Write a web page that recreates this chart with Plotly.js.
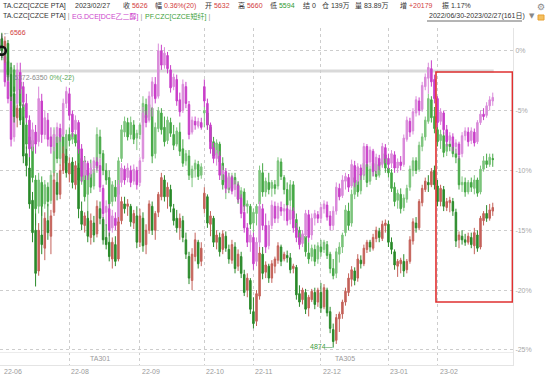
<!DOCTYPE html>
<html><head><meta charset="utf-8">
<script src="https://cdn.plot.ly/plotly-3.0.1.min.js"></script>
<style>html,body{margin:0;padding:0;background:#fff;}#chart{width:550px;height:377px;}</style>
</head><body><div id="chart"></div>
<script>
const dates = ["2022-06-30",
"2022-07-01","2022-07-04","2022-07-05","2022-07-06","2022-07-07","2022-07-08","2022-07-11","2022-07-12","2022-07-13","2022-07-14","2022-07-15",
"2022-07-18","2022-07-19","2022-07-20","2022-07-21","2022-07-22","2022-07-25","2022-07-26","2022-07-27","2022-07-28","2022-07-29",
"2022-08-01","2022-08-02","2022-08-03","2022-08-04","2022-08-05","2022-08-08","2022-08-09","2022-08-10","2022-08-11","2022-08-12",
"2022-08-15","2022-08-16","2022-08-17","2022-08-18","2022-08-19","2022-08-22","2022-08-23","2022-08-24","2022-08-25","2022-08-26",
"2022-08-29","2022-08-30","2022-08-31",
"2022-09-01","2022-09-02","2022-09-05","2022-09-06","2022-09-07","2022-09-08","2022-09-09","2022-09-13","2022-09-14","2022-09-15","2022-09-16",
"2022-09-19","2022-09-20","2022-09-21","2022-09-22","2022-09-23","2022-09-26","2022-09-27","2022-09-28","2022-09-29","2022-09-30",
"2022-10-10","2022-10-11","2022-10-12","2022-10-13","2022-10-14","2022-10-17","2022-10-18","2022-10-19","2022-10-20","2022-10-21",
"2022-10-24","2022-10-25","2022-10-26","2022-10-27","2022-10-28","2022-10-31",
"2022-11-01","2022-11-02","2022-11-03","2022-11-04","2022-11-07","2022-11-08","2022-11-09","2022-11-10","2022-11-11",
"2022-11-14","2022-11-15","2022-11-16","2022-11-17","2022-11-18","2022-11-21","2022-11-22","2022-11-23","2022-11-24","2022-11-25",
"2022-11-28","2022-11-29","2022-11-30",
"2022-12-01","2022-12-02","2022-12-05","2022-12-06","2022-12-07","2022-12-08","2022-12-09","2022-12-12","2022-12-13","2022-12-14","2022-12-15","2022-12-16",
"2022-12-19","2022-12-20","2022-12-21","2022-12-22","2022-12-23","2022-12-26","2022-12-27","2022-12-28","2022-12-29","2022-12-30",
"2023-01-03","2023-01-04","2023-01-05","2023-01-06","2023-01-09","2023-01-10","2023-01-11","2023-01-12","2023-01-13",
"2023-01-16","2023-01-17","2023-01-18","2023-01-19","2023-01-20","2023-01-30","2023-01-31",
"2023-02-01","2023-02-02","2023-02-03","2023-02-06","2023-02-07","2023-02-08","2023-02-09","2023-02-10",
"2023-02-13","2023-02-14","2023-02-15","2023-02-16","2023-02-17","2023-02-20","2023-02-21","2023-02-22","2023-02-23","2023-02-24","2023-02-27"];

// TA.CZC (PTA) — % change vs first close
const taOpen = [1.0,0.2,0.6,-2.0,-3.6,-5.6,-4.8,-6.0,-8.6,-9.8,
-12.5,-15.0,-18.4,-15.4,-16.5,-14.2,-15.5,-13.5,-11.0,-12.0,
-10.0,-8.8,-10.3,-9.3,-11.2,-9.8,-13.4,-14.6,-14.0,-15.6,
-14.4,-15.3,-13.2,-14.1,-15.6,-16.0,-17.4,-16.2,-17.4,-14.2,
-12.8,-13.0,-13.0,-14.4,-13.8,-16.0,-14.0,-16.2,-15.0,-13.0,
-15.0,-13.5,-12.2,-10.8,-12.2,-11.6,-13.2,-14.0,-14.8,-14.2,
-15.8,-17.2,-19.2,-17.2,-16.0,-17.6,-13.2,-12.2,-14.5,-14.0,
-16.0,-15.6,-16.6,-15.5,-16.6,-17.5,-16.4,-18.0,-17.2,-18.7,
-20.0,-19.2,-21.8,-22.6,-20.5,-17.0,-18.5,-18.0,-19.0,-18.0,
-17.5,-16.4,-17.4,-17.1,-17.3,-18.2,-18.1,-20.3,-20.8,-20.2,
-21.5,-20.8,-20.2,-21.0,-20.2,-21.4,-20.0,-21.8,-23.3,-24.2,
-22.4,-22.0,-21.0,-20.2,-19.1,-18.4,-19.0,-17.5,-17.8,-16.6,
-16.0,-16.5,-15.7,-15.1,-15.7,-14.6,-14.5,-16.0,-16.8,-18.0,
-17.8,-17.6,-18.3,-17.6,-15.9,-14.4,-14.8,-12.7,-11.6,-11.0,
-11.2,-10.0,-11.3,-12.6,-11.6,-13.1,-12.7,-12.6,-13.5,-15.8,
-15.5,-15.8,-16.0,-15.6,-16.3,-15.4,-16.4,-14.2,-13.6,-14.0,
-13.4];
const taHigh = [1.5,1.2,0.9,-1.0,-3.0,-4.5,-4.3,-5.5,-8.0,-8.9,
-11.8,-13.6,-14.4,-13.0,-13.5,-12.8,-13.3,-10.2,-10.2,-9.5,
-8.0,-8.2,-8.9,-8.9,-9.2,-9.4,-12.6,-13.5,-13.4,-13.6,
-13.8,-12.5,-12.6,-13.9,-14.5,-15.2,-15.6,-15.5,-13.9,-12.2,
-12.2,-12.4,-12.8,-13.3,-13.0,-13.2,-13.5,-14.5,-12.5,-12.6,
-13.4,-11.8,-10.2,-10.4,-11.0,-11.2,-12.8,-13.3,-13.6,-13.8,
-15.2,-16.8,-16.5,-15.2,-15.8,-16.0,-11.4,-12.0,-13.4,-13.8,
-15.0,-15.2,-15.0,-15.1,-16.2,-15.8,-16.0,-16.6,-16.8,-18.3,
-18.6,-19.0,-20.6,-20.0,-16.4,-16.4,-17.6,-17.8,-17.5,-17.2,
-16.0,-16.2,-16.8,-16.7,-16.9,-17.8,-17.9,-19.6,-19.8,-19.9,
-20.4,-19.9,-19.8,-19.8,-19.4,-19.5,-19.8,-21.4,-22.8,-22.0,
-21.8,-20.8,-19.8,-18.6,-18.0,-18.1,-17.0,-17.1,-16.2,-15.8,
-15.8,-15.3,-14.7,-14.8,-14.2,-14.1,-14.2,-15.6,-16.6,-17.4,
-17.3,-17.0,-17.4,-15.5,-14.0,-13.9,-12.4,-11.2,-10.6,-10.4,
-9.8,-9.6,-10.8,-11.2,-11.3,-12.3,-12.2,-12.3,-13.2,-15.1,
-15.0,-15.3,-15.2,-15.2,-14.8,-15.0,-13.8,-13.4,-12.9,-12.8,
-12.7];
const taLow = [-0.8,-1.0,-2.5,-4.2,-6.0,-6.4,-6.2,-9.4,-10.5,-13.2,
-16.0,-19.7,-18.8,-17.0,-17.5,-15.8,-17.0,-13.8,-12.5,-12.4,
-10.3,-10.6,-11.0,-11.5,-11.6,-14.0,-15.0,-15.2,-16.0,-16.2,
-16.0,-15.6,-14.5,-16.2,-16.6,-17.6,-18.2,-18.0,-17.6,-14.5,
-13.6,-13.8,-14.7,-14.9,-16.5,-16.4,-16.8,-17.0,-15.3,-15.4,
-15.8,-13.9,-12.5,-12.6,-13.2,-13.5,-14.6,-15.2,-15.8,-16.0,
-17.4,-19.5,-20.0,-17.6,-18.2,-18.0,-13.6,-14.8,-15.5,-16.4,
-16.6,-17.2,-17.0,-16.8,-17.8,-17.8,-18.6,-18.4,-19.0,-20.5,
-20.6,-22.0,-23.2,-23.0,-20.8,-19.1,-19.0,-19.4,-19.4,-18.6,
-17.8,-18.0,-17.6,-17.7,-18.6,-18.6,-20.8,-21.4,-21.2,-22.0,
-22.2,-21.0,-21.6,-21.4,-21.9,-21.6,-22.2,-23.6,-24.8,-24.5,
-23.5,-22.4,-21.3,-20.5,-19.7,-19.6,-19.3,-18.2,-18.0,-16.9,
-16.8,-16.7,-16.0,-16.0,-15.9,-15.2,-16.4,-17.0,-18.3,-18.9,
-18.6,-18.9,-18.6,-17.8,-16.2,-15.2,-15.0,-13.0,-11.8,-11.8,
-11.4,-11.6,-13.0,-13.0,-13.4,-13.4,-13.5,-13.8,-16.4,-16.5,
-16.2,-16.3,-16.2,-16.5,-17.0,-16.8,-16.6,-14.6,-14.3,-14.2,
-13.8];
const taClose = [0.0,0.8,-2.0,-3.8,-5.5,-4.8,-5.8,-8.8,-9.6,-12.8,
-15.2,-18.6,-15.0,-16.2,-14.0,-15.2,-13.8,-10.8,-12.0,-10.0,
-8.6,-10.2,-9.4,-11.0,-9.6,-13.2,-14.5,-13.8,-15.5,-14.2,
-15.4,-13.0,-14.0,-15.8,-16.2,-17.2,-16.0,-17.6,-14.3,-12.6,
-13.2,-12.8,-14.3,-13.6,-16.0,-13.8,-16.3,-15.0,-12.8,-15.0,
-13.6,-12.0,-10.6,-12.2,-11.4,-13.0,-14.2,-14.8,-14.0,-15.6,
-17.0,-19.0,-17.0,-15.8,-17.8,-16.5,-11.9,-14.4,-13.8,-16.0,
-15.4,-16.8,-15.3,-16.5,-17.4,-16.2,-18.2,-17.0,-18.6,-20.2,
-19.0,-21.6,-22.8,-20.3,-16.9,-18.6,-17.9,-19.0,-17.8,-17.4,
-16.3,-17.6,-17.0,-17.3,-18.3,-18.0,-20.4,-21.0,-20.0,-21.6,
-20.6,-20.1,-21.2,-20.0,-21.5,-19.8,-21.9,-23.2,-24.3,-22.3,
-22.0,-21.0,-20.1,-19.0,-18.3,-19.2,-17.4,-17.8,-16.5,-16.0,
-16.4,-15.6,-15.0,-15.6,-14.5,-14.4,-16.0,-16.6,-17.9,-17.6,
-17.5,-18.4,-17.6,-15.8,-14.3,-14.8,-12.6,-11.5,-10.9,-11.2,
-10.1,-11.2,-12.6,-11.5,-13.0,-12.6,-12.5,-13.4,-15.9,-15.4,
-15.8,-16.0,-15.5,-16.2,-15.2,-16.5,-14.0,-13.6,-14.0,-13.3,
-13.1];

// EG.DCE (乙二醇)
const egOpen = [1.0,-0.5,-2.6,-3.8,-7.2,-4.4,-1.8,-3.0,-4.4,-5.8,
-8.0,-6.8,-7.6,-4.2,-7.0,-5.8,-7.2,-8.0,-7.1,-6.5,
-7.0,-4.4,-3.6,-5.3,-6.6,-6.0,-8.2,-10.4,-9.4,-10.3,
-9.8,-9.3,-9.6,-11.5,-13.5,-13.2,-14.8,-14.0,-14.4,-11.0,
-9.9,-10.6,-10.0,-10.9,-10.0,-11.0,-9.0,-5.4,-5.8,-3.8,
-2.8,-3.8,0.0,-1.2,-0.4,-1.6,-3.0,-2.4,-4.1,-5.0,
-3.0,-4.5,-6.8,-5.9,-6.3,-6.0,-3.0,-4.4,-6.2,-8.1,
-9.0,-8.8,-10.3,-10.1,-11.4,-10.6,-11.6,-11.3,-12.3,-13.5,
-14.8,-16.0,-15.6,-17.6,-16.0,-13.2,-14.6,-16.3,-14.6,-13.0,
-14.0,-13.1,-13.4,-13.2,-14.1,-13.4,-14.8,-15.6,-16.1,-15.4,
-13.7,-15.4,-14.0,-13.7,-14.0,-13.2,-12.9,-13.8,-14.6,-13.4,
-11.5,-12.1,-10.9,-10.6,-11.3,-9.6,-10.9,-9.8,-10.3,-8.0,
-9.3,-8.4,-10.0,-9.0,-9.5,-8.1,-9.0,-9.4,-8.7,-9.8,
-9.3,-9.5,-7.4,-5.9,-6.7,-5.2,-4.2,-4.9,-3.0,-2.3,
-1.5,-2.4,-4.0,-5.9,-5.2,-6.6,-7.5,-7.2,-8.0,-7.8,
-8.6,-7.1,-6.8,-7.5,-6.8,-7.6,-6.0,-5.3,-5.4,-4.6,
-4.2];
const egHigh = [1.4,0.2,-1.8,-3.0,-4.2,-1.0,-1.0,-2.6,-3.6,-5.4,
-6.0,-6.2,-3.0,-3.6,-5.0,-5.2,-6.4,-6.6,-6.0,-6.1,
-4.0,-3.0,-3.1,-5.0,-5.4,-5.8,-7.8,-8.9,-9.2,-9.4,
-8.9,-8.9,-9.0,-11.2,-12.5,-12.8,-13.3,-13.5,-10.8,-9.4,
-9.6,-9.4,-9.6,-9.5,-9.7,-8.9,-4.7,-5.0,-3.4,-2.2,
-2.2,0.6,0.5,0.3,-0.1,-1.2,-1.9,-2.0,-3.5,-2.4,
-2.6,-4.2,-5.5,-5.5,-5.6,-5.6,-2.4,-4.0,-6.0,-7.7,
-8.3,-8.4,-9.6,-9.8,-10.2,-10.4,-10.8,-11.0,-12.0,-12.9,
-14.4,-15.0,-15.2,-15.6,-12.6,-12.8,-13.6,-14.2,-12.5,-12.6,
-12.7,-12.6,-12.8,-12.9,-13.0,-13.1,-14.4,-15.2,-15.0,-13.3,
-13.3,-13.6,-13.3,-13.4,-12.8,-12.5,-12.6,-13.4,-13.0,-11.0,
-11.1,-10.4,-10.2,-10.3,-9.1,-9.2,-9.4,-9.5,-7.7,-7.8,
-8.0,-8.2,-8.6,-8.7,-7.7,-7.8,-8.6,-8.3,-8.4,-9.0,
-8.8,-7.0,-5.5,-5.6,-4.8,-3.8,-3.9,-2.6,-1.9,-1.0,
-0.8,-2.0,-3.8,-4.8,-5.0,-6.2,-6.8,-6.9,-7.4,-7.6,
-6.8,-6.4,-6.4,-6.4,-6.5,-5.8,-5.0,-4.8,-4.3,-3.8,
-3.5];
const egLow = [-0.6,-3.0,-4.4,-8.0,-7.6,-4.8,-3.6,-4.7,-6.0,-8.9,
-8.4,-8.6,-8.0,-7.7,-7.4,-8.0,-8.6,-8.4,-7.7,-7.6,
-7.2,-4.8,-5.8,-7.2,-7.0,-8.6,-11.0,-10.8,-10.8,-10.6,
-10.2,-10.0,-11.8,-14.1,-14.6,-15.5,-15.2,-15.0,-14.6,-11.4,
-11.2,-11.0,-11.4,-11.2,-11.6,-11.3,-9.3,-6.4,-6.0,-5.5,
-4.4,-4.0,-1.6,-1.5,-1.9,-3.5,-3.3,-4.6,-5.5,-5.2,
-4.8,-7.4,-7.0,-6.6,-6.5,-6.6,-4.7,-6.6,-8.6,-9.4,
-9.6,-10.8,-10.8,-11.9,-11.7,-12.0,-12.2,-12.7,-14.0,-15.2,
-16.4,-16.8,-18.3,-18.0,-16.4,-15.0,-16.9,-16.6,-14.9,-14.4,
-14.4,-13.8,-14.2,-14.6,-14.5,-15.2,-16.0,-16.6,-16.4,-15.6,
-16.0,-15.8,-14.6,-14.4,-14.4,-13.6,-14.2,-15.0,-15.0,-13.7,
-12.5,-12.3,-11.6,-11.8,-11.5,-11.4,-11.2,-10.8,-10.5,-9.7,
-9.6,-10.5,-10.3,-10.0,-9.8,-9.4,-9.9,-9.8,-10.2,-10.2,
-10.0,-9.7,-7.6,-7.2,-7.0,-5.5,-5.4,-5.1,-3.3,-3.6,
-3.0,-4.4,-6.4,-6.2,-7.0,-8.0,-7.8,-8.4,-8.6,-9.1,
-8.9,-7.5,-8.0,-7.8,-8.0,-7.8,-6.2,-5.8,-5.6,-5.0,
-4.6];
const egClose = [0.0,-2.6,-4.0,-7.4,-4.6,-1.6,-3.2,-4.3,-5.6,-8.2,
-6.6,-7.8,-4.0,-7.0,-5.6,-7.4,-8.0,-7.0,-6.4,-7.2,
-4.4,-3.4,-5.4,-6.8,-5.8,-8.2,-10.5,-9.3,-10.4,-9.8,
-9.2,-9.6,-11.4,-13.6,-13.0,-15.0,-13.8,-14.6,-11.2,-9.8,
-10.8,-9.8,-11.0,-9.9,-11.2,-9.2,-5.2,-6.0,-3.8,-2.6,
-4.0,0.0,-1.2,-0.2,-1.5,-3.1,-2.2,-4.2,-5.1,-2.8,
-4.4,-7.0,-5.8,-6.2,-5.9,-6.4,-4.2,-6.2,-8.2,-9.0,
-8.6,-10.4,-10.0,-11.5,-10.5,-11.7,-11.2,-12.4,-13.6,-14.8,
-16.0,-15.4,-17.8,-16.0,-13.0,-14.6,-16.4,-14.6,-12.9,-14.0,
-13.0,-13.4,-13.2,-14.2,-13.3,-14.8,-15.6,-16.2,-15.3,-13.6,
-15.6,-14.0,-13.6,-14.0,-13.1,-12.8,-13.9,-14.6,-13.4,-11.4,
-12.2,-10.8,-10.5,-11.4,-9.5,-11.0,-9.7,-10.4,-8.0,-9.4,
-8.3,-10.1,-8.9,-9.6,-8.0,-9.0,-9.5,-8.6,-9.8,-9.3,
-9.6,-7.3,-5.8,-6.8,-5.1,-4.1,-5.0,-2.9,-2.2,-1.4,
-2.6,-4.0,-6.0,-5.1,-6.6,-7.6,-7.1,-8.0,-7.7,-8.7,
-7.1,-6.7,-7.6,-6.7,-7.7,-6.0,-5.3,-5.5,-4.6,-4.1,
-3.9];

// PF.CZC (短纤)
const pfOpen = [0.5,0.0,-0.9,-2.0,-1.6,-3.3,-2.6,-4.5,-6.2,-7.8,
-7.5,-10.8,-13.0,-11.0,-12.8,-11.4,-12.5,-10.2,-7.2,-9.0,
-7.2,-9.2,-7.0,-7.4,-7.0,-7.5,-10.9,-9.2,-12.0,-10.2,
-11.3,-9.8,-7.2,-8.6,-10.0,-10.6,-12.6,-11.4,-12.0,-9.0,
-6.8,-6.0,-7.0,-6.2,-7.3,-7.0,-6.0,-4.5,-5.5,-4.8,
-8.6,-6.5,-5.2,-6.4,-7.5,-6.0,-7.0,-7.8,-6.8,-8.2,
-9.2,-8.8,-10.6,-9.9,-9.5,-10.4,-5.2,-5.2,-6.4,-7.6,
-8.7,-7.8,-9.4,-11.0,-10.6,-11.5,-10.6,-11.2,-12.3,-11.8,
-13.0,-13.0,-14.4,-13.6,-12.8,-10.2,-11.8,-11.0,-11.5,-11.2,
-11.3,-9.3,-10.6,-11.6,-12.5,-11.2,-14.1,-15.0,-15.8,-15.5,
-16.9,-17.2,-16.6,-17.4,-16.4,-16.6,-16.2,-17.0,-18.2,-18.6,
-17.0,-16.4,-15.2,-13.4,-14.4,-12.0,-10.8,-11.7,-10.4,-9.5,
-10.9,-10.0,-9.5,-10.4,-9.4,-8.7,-9.8,-10.2,-11.4,-12.5,
-12.0,-13.1,-12.4,-11.4,-10.0,-9.2,-9.9,-8.0,-7.2,-5.9,
-4.1,-5.5,-6.6,-7.5,-7.1,-8.4,-7.8,-8.0,-8.6,-9.0,
-11.2,-11.0,-11.8,-11.0,-11.5,-10.8,-11.8,-9.9,-9.2,-9.5,
-9.0];
const pfHigh = [1.2,0.8,-0.2,-1.0,-1.2,-2.0,-2.2,-3.5,-5.6,-6.8,
-7.0,-10.4,-10.2,-10.5,-10.8,-11.0,-10.0,-6.4,-6.6,-6.6,
-6.8,-6.6,-6.4,-6.6,-6.7,-6.4,-8.6,-8.8,-9.6,-9.1,
-9.6,-6.4,-6.6,-8.3,-9.4,-10.0,-10.9,-10.8,-8.9,-6.2,
-5.5,-5.6,-5.5,-5.8,-6.6,-6.0,-3.8,-4.0,-4.2,-4.7,
-6.0,-4.7,-4.8,-5.5,-5.5,-5.6,-6.2,-6.4,-6.0,-7.4,
-8.3,-8.3,-9.6,-9.1,-9.2,-9.4,-4.7,-4.8,-6.2,-7.2,
-7.4,-7.6,-8.9,-10.0,-10.2,-10.2,-10.2,-10.9,-11.4,-11.5,
-12.5,-12.8,-13.2,-12.8,-9.6,-9.4,-10.6,-10.2,-10.8,-10.8,
-8.9,-9.0,-10.4,-11.0,-10.8,-10.9,-13.6,-14.7,-15.0,-15.2,
-16.0,-16.2,-16.2,-16.0,-15.8,-15.8,-15.9,-16.8,-17.4,-16.5,
-16.0,-15.2,-12.9,-12.7,-11.6,-10.2,-10.3,-10.0,-9.1,-9.2,
-9.6,-9.1,-9.2,-9.0,-8.3,-8.4,-9.3,-9.9,-11.0,-11.6,
-11.5,-12.0,-11.2,-9.6,-8.9,-8.9,-7.6,-6.9,-5.5,-3.6,
-3.8,-4.7,-6.3,-6.6,-6.8,-7.5,-7.2,-7.6,-8.2,-8.8,
-10.5,-10.6,-10.8,-10.6,-10.4,-10.6,-9.6,-8.8,-8.6,-8.6,
-8.6];
const pfLow = [-0.6,-1.2,-2.6,-3.0,-3.8,-3.6,-5.0,-6.4,-8.2,-9.2,
-11.0,-14.6,-13.6,-13.8,-13.2,-13.0,-12.8,-10.5,-9.4,-9.6,
-10.0,-9.6,-8.0,-7.8,-8.0,-11.5,-11.2,-12.6,-14.0,-11.9,
-11.6,-10.2,-9.0,-10.4,-11.2,-13.3,-13.0,-12.6,-12.3,-9.3,
-7.2,-7.5,-7.4,-7.8,-8.3,-7.4,-6.3,-6.0,-5.8,-9.4,
-9.0,-6.8,-7.0,-8.0,-7.8,-7.2,-8.3,-8.0,-8.8,-9.7,
-9.6,-10.8,-11.4,-10.6,-10.8,-10.7,-6.4,-6.6,-8.0,-9.1,
-9.0,-9.6,-11.6,-12.4,-11.9,-11.8,-11.6,-12.8,-12.6,-13.4,
-13.6,-14.9,-15.2,-14.6,-13.0,-12.2,-12.2,-12.0,-12.2,-12.0,
-11.6,-10.8,-12.0,-13.3,-13.0,-14.4,-15.4,-16.4,-16.2,-17.2,
-17.8,-17.6,-18.0,-17.8,-17.2,-16.9,-17.4,-18.6,-19.1,-19.0,
-17.7,-16.9,-15.5,-15.0,-14.7,-12.4,-12.2,-12.0,-10.8,-11.4,
-11.2,-10.5,-10.8,-10.6,-9.7,-10.2,-10.6,-11.8,-13.0,-13.2,
-13.6,-13.4,-12.7,-11.7,-10.5,-10.3,-10.1,-8.4,-7.5,-6.1,
-6.0,-6.9,-8.0,-8.2,-8.9,-8.8,-8.4,-8.9,-9.4,-11.6,
-11.8,-12.2,-12.0,-11.8,-12.0,-12.2,-12.0,-10.1,-9.8,-9.7,
-9.7];
const pfClose = [0.0,-0.8,-2.2,-1.4,-3.4,-2.4,-4.6,-6.0,-7.8,-7.2,
-10.6,-13.2,-10.8,-13.0,-11.2,-12.6,-10.4,-7.0,-9.0,-7.0,
-9.4,-7.0,-7.5,-6.9,-7.7,-10.8,-9.0,-12.2,-10.0,-11.4,
-9.9,-7.0,-8.6,-10.0,-10.8,-12.8,-11.2,-12.2,-9.2,-6.6,
-5.9,-7.2,-6.0,-7.4,-6.9,-6.2,-4.4,-5.6,-4.5,-8.8,
-6.4,-5.0,-6.6,-7.6,-5.8,-6.9,-7.9,-6.7,-8.4,-9.4,
-8.6,-10.4,-9.9,-9.4,-10.5,-9.7,-5.0,-6.2,-7.6,-8.8,
-7.7,-9.3,-11.2,-10.4,-11.6,-10.5,-11.2,-12.4,-11.7,-13.0,
-12.8,-14.5,-13.5,-13.0,-10.0,-11.8,-10.9,-11.6,-11.0,-11.5,
-9.2,-10.5,-11.6,-12.9,-11.2,-14.0,-15.0,-16.0,-15.4,-16.8,
-17.4,-16.5,-17.6,-16.3,-16.8,-16.0,-17.1,-18.2,-18.8,-16.8,
-16.4,-15.4,-13.3,-14.6,-12.0,-10.6,-11.8,-10.3,-9.4,-11.0,
-9.9,-9.4,-10.5,-9.3,-8.6,-9.8,-10.2,-11.5,-12.6,-11.9,
-13.2,-12.3,-11.5,-9.9,-9.2,-10.0,-7.9,-7.2,-5.8,-4.0,
-5.6,-6.5,-7.6,-7.0,-8.5,-7.8,-8.0,-8.6,-8.9,-11.2,
-11.0,-11.8,-11.0,-11.4,-10.8,-11.9,-9.9,-9.2,-9.5,-8.9,
-9.1];

// axis labels / markers
const monthTickDates = ["2022-08-01","2022-09-01","2022-10-10","2022-11-01","2022-12-01","2023-01-03","2023-02-01"];
const monthLabelDates = ["2022-06-30","2022-08-01","2022-09-01","2022-10-10","2022-11-01","2022-12-01","2023-01-03","2023-02-01"];
const monthLabels = ["22-06","22-08","22-09","22-10","22-11","22-12","23-01","23-02"];
const yTickVals = [0,-5,-10,-15,-20,-25];
const yTickText = ["0%","-5%","-10%","-15%","-20%","-25%"];
const contractDates = ["2022-08-15","2022-12-13"];
const contractLabels = ["TA301","TA305"];
const starDayIdx = [1,3,4,5,9,10,12,13,15,23,25,26,27,29,30,32,33,36,46,47,49,51,57,61,64,74,82,86,89,90,91,94,95,96,97,102,105,107,108,109,115,134,137,149];
const refLineLevel = -1.7;
const boxFromIdx = 141.5, boxTop = -1.78, boxBottom = -21.0;

// ---------- layout helpers ----------
const FONT = '"Liberation Sans","Noto Sans CJK SC",sans-serif';
const FS = 7;
const PLOT_W = 513, PLOT_T = 28, PLOT_B = 365;
const px = x => x / PLOT_W;
const py = y => (PLOT_B - y) / (PLOT_B - PLOT_T);
const RED = '#d23c3c', GRN = '#2f9a2f';

function candle(name, o, h, l, c, upCol, dnCol) {
  return {type:'candlestick', name, x:dates, open:o, high:h, low:l, close:c,
    increasing:{line:{color:upCol,width:1}, fillcolor:upCol},
    decreasing:{line:{color:dnCol,width:1}, fillcolor:dnCol},
    whiskerwidth:0, hoverinfo:'skip'};
}

const traces = [
  candle('PF', pfOpen, pfHigh, pfLow, pfClose, '#7cc47c', '#45a845'),
  candle('EG', egOpen, egHigh, egLow, egClose, '#da8ada', '#c93fc9'),
  candle('TA', taOpen, taHigh, taLow, taClose, '#c4625a', '#2a8a2a'),
  {type:'scatter', mode:'markers', x:starDayIdx.map(i=>dates[i]), y:starDayIdx.map(()=>2.1),
   marker:{symbol:'star', size:4.5, color:'#f2a53a'}, cliponaxis:false, hoverinfo:'skip'},
  {type:'scatter', mode:'markers', x:[dates[0]], y:[taClose[0]],
   marker:{symbol:'circle-open', size:8, line:{width:2.5,color:'#111'}, color:'#111'}, cliponaxis:false, hoverinfo:'skip'}
];

const ann = [];
function txt(x, y, t, opts) {
  ann.push(Object.assign({xref:'paper', yref:'paper', x:px(x), y:py(y), text:t, showarrow:false,
    xanchor:'left', yanchor:'middle', font:{size:FS, color:'#333', family:FONT}}, opts||{}));
}
const sp = (c, t) => `<span style="color:${c}">${t}</span>`;
// header line 1
txt(1, 6, 'TA.CZC[CZCE PTA]');
txt(73, 6, '2023/02/27');
txt(121, 6, '收 ' + sp(RED,'5626'));
txt(153, 6, '幅 ' + sp(RED,'0.36%(20)'));
txt(203, 6, '开 ' + sp(RED,'5632'));
txt(236, 6, '高 ' + sp(RED,'5660'));
txt(268, 6, '低 ' + sp(GRN,'5594'));
txt(301, 6, '结 0');
txt(320, 6, '仓 139万');
txt(353, 6, '量 83.89万');
txt(398, 6, '增 ' + sp(RED,'+20179'));
txt(440, 6, '振 1.17%');
// header line 2
txt(1, 16.5, 'TA.CZC[CZCE PTA] ' + sp('#999','|'));
txt(70, 16.5, sp('#cc44cc','EG.DCE[DCE乙二醇]') + ' ' + sp('#999','|'));
txt(143, 16.5, sp('#3aa03a','PF.CZC[CZCE短纤]') + ' ' + sp('#999','|'));
txt(427, 16.5, '2022/06/30-2023/02/27(161日)');
txt(527, 16.5, '▼', {font:{size:7,color:'#888',family:'DejaVu Sans'}});
txt(535, 7, '⚙', {font:{size:9,color:'#888',family:'DejaVu Sans'}});

// month labels
monthLabelDates.forEach((d,i)=>ann.push({xref:'x', yref:'paper', x:d, y:py(371), text:monthLabels[i], showarrow:false,
  xanchor:'left', yanchor:'middle', xshift:0, font:{size:FS,color:'#9a9a9a',family:FONT}}));
// contract labels
contractDates.forEach((d,i)=>ann.push({xref:'x', yref:'y', x:d, y:-25.75, text:contractLabels[i], showarrow:false,
  xanchor:'center', yanchor:'middle', font:{size:FS,color:'#9a9a9a',family:FONT}}));
// high/low labels
ann.push({xref:'x', yref:'y', x:dates[0], y:taHigh[0], text:sp('#777','←')+'6566', showarrow:false, xanchor:'left', yanchor:'middle',
  xshift:-1, font:{size:FS,color:RED,family:FONT}});
ann.push({xref:'x', yref:'y', x:dates[108], y:taLow[108]+0.1, text:'4874—', showarrow:false, xanchor:'right', yanchor:'middle',
  xshift:2, font:{size:FS,color:'#3a9a3a',family:FONT}});
// reference line label
ann.push({xref:'paper', yref:'y', x:px(12), y:-2.3, text:sp('#8a8a8a','6372-6350')+' '+sp('#5aaa5a','0%(-22)'), showarrow:false,
  xanchor:'left', yanchor:'middle', font:{size:FS,color:'#888',family:FONT}});

const arrs = [taOpen,taHigh,taLow,taClose,egOpen,egHigh,egLow,egClose,pfOpen,pfHigh,pfLow,pfClose];
const bad = arrs.map(a=>a.length).filter(n=>n!==dates.length);
if (bad.length || dates.length!==161) txt(200, 200, 'LEN ' + dates.length + ' ' + arrs.map(a=>a.length).join(','), {font:{size:12,color:'red'}});

const shapes = [
  {type:'line', xref:'x', yref:'y', x0:-0.6, x1:160.3, y0:refLineLevel, y1:refLineLevel, line:{color:'#d9d9d9', width:3}, layer:'below'},
  {type:'rect', xref:'x', yref:'y', x0:boxFromIdx, x1:166.4, y0:boxTop, y1:boxBottom, line:{color:'#e03030', width:1.6}, fillcolor:'rgba(0,0,0,0)'},
  {type:'line', xref:'paper', yref:'paper', x0:px(427), x1:px(522), y0:py(21), y1:py(21), line:{color:'#444', width:0.8}},
  {type:'rect', xref:'paper', yref:'paper', x0:px(538), x1:px(544), y0:py(20), y1:py(15), line:{color:'#e8a030', width:1}, fillcolor:'#f3c060'},
  {type:'line', xref:'paper', yref:'paper', x0:0, x1:1, y0:py(352.5), y1:py(352.5), line:{color:'#ececec', width:1}}
];

const layout = {
  width:550, height:377, margin:{l:0, r:37, t:PLOT_T, b:377-PLOT_B, pad:0},
  paper_bgcolor:'#fff', plot_bgcolor:'#fff', showlegend:false,
  font:{family:FONT, size:FS, color:'#333'},
  xaxis:{type:'category', range:[-0.6,166.6], tickvals:monthTickDates, showticklabels:false, ticks:'',
    showgrid:true, gridcolor:'#cdcdcd', griddash:'dot', gridwidth:1, showline:true, linecolor:'#e4e4e4',
    zeroline:false, rangeslider:{visible:false}, fixedrange:true},
  yaxis:{side:'right', range:[-26.26,1.9], tickvals:yTickVals, ticktext:yTickText, ticks:'',
    tickfont:{size:FS, color:'#a8a8a8', family:FONT}, showgrid:true, gridcolor:'#cdcdcd', griddash:'dot',
    zeroline:false, showline:true, linecolor:'#e4e4e4', fixedrange:true},
  boxmode:'overlay',
  shapes, annotations:ann
};

Plotly.newPlot('chart', traces, layout, {staticPlot:true, displayModeBar:false});
</script></body></html>
